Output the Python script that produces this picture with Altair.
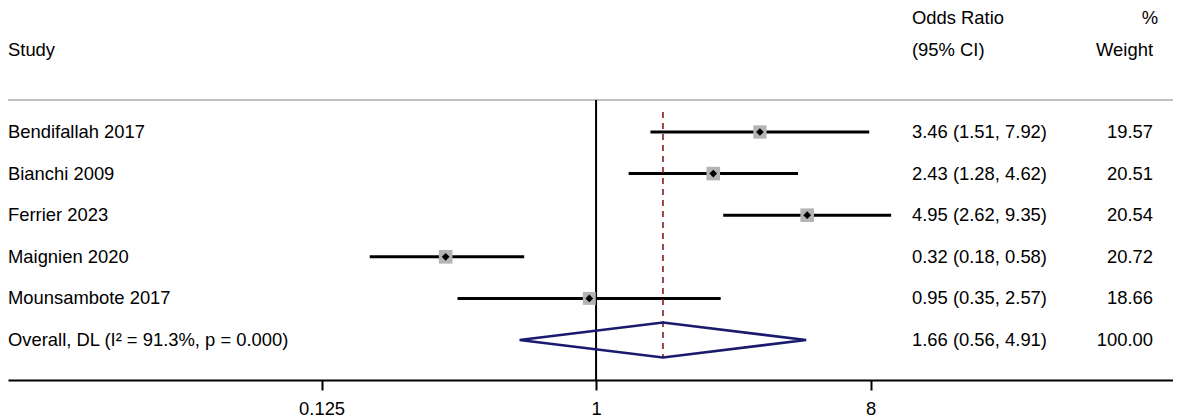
import altair as alt
import pandas as pd

# ---------------- data ----------------
studies = ["Bendifallah 2017", "Bianchi 2009", "Ferrier 2023", "Maignien 2020", "Mounsambote 2017"]
or_est = [3.46, 2.43, 4.95, 0.32, 0.95]
ci_lo = [1.51, 1.28, 2.62, 0.18, 0.35]
ci_hi = [7.92, 4.62, 9.35, 0.58, 2.57]
weights = [19.57, 20.51, 20.54, 20.72, 18.66]

overall_label = "Overall, DL (I\u00b2 = 91.3%, p = 0.000)"
overall_est = 1.66
overall_lo = 0.56
overall_hi = 4.91
overall_weight = 100.00

x_ticks = [0.125, 1, 8]

# ---------------- layout ----------------
W, H = 1165, 372
FONT = "Liberation Sans"
FS = 18.4
XMIN, XMAX = 0.01162, 79.1
YTOP, YBOT = -2.981, 5.962

X_SCALE = alt.Scale(type="log", base=2, domain=[XMIN, XMAX], nice=False)
Y_SCALE = alt.Scale(domain=[YTOP, YBOT], reverse=True, nice=False, zero=False)
X_AXIS = alt.Axis(values=x_ticks, format="~g", title=None, grid=False,
                  labelFlush=False, labelOverlap=False)

n = len(studies)
rows = list(range(n))
overall_row = n

study_df = pd.DataFrame({
    "study": studies, "est": or_est, "lo": ci_lo, "hi": ci_hi,
    "w": weights, "row": rows,
})

text_df = pd.DataFrame({
    "label": studies + [overall_label],
    "ci": [f"{e:.2f} ({l:.2f}, {h:.2f})" for e, l, h in
           zip(or_est + [overall_est], ci_lo + [overall_lo], ci_hi + [overall_hi])],
    "wt": [f"{w:.2f}" for w in weights + [overall_weight]],
    "row": rows + [overall_row],
})

DH = 0.42
diamond_df = pd.DataFrame({
    "x": [overall_lo, overall_est, overall_hi, overall_est, overall_lo],
    "row": [overall_row, overall_row - DH, overall_row, overall_row + DH, overall_row],
    "o": [0, 1, 2, 3, 4],
})

SEP = -0.769
sep_df = pd.DataFrame({"x": [XMIN], "x2": [XMAX], "row": [SEP]})
null_df = pd.DataFrame({"x": [1.0], "row": [SEP], "row2": [YBOT]})
dash_df = pd.DataFrame({"x": [overall_est], "row": [-0.48], "row2": [overall_row + DH]})


def X(field):
    return alt.X(field, type="quantitative", scale=X_SCALE, axis=X_AXIS)


def Y(field="row"):
    return alt.Y(field, type="quantitative", scale=Y_SCALE, axis=None)


whiskers = alt.Chart(study_df).mark_rule(
    color="black", strokeWidth=3
).encode(x=X("lo"), x2="hi", y=Y())

sep = alt.Chart(sep_df).mark_rule(color="#c0c0c0", strokeWidth=2).encode(
    x=X("x"), x2="x2", y=Y())

null_line = alt.Chart(null_df).mark_rule(color="black", strokeWidth=2).encode(
    x=X("x"), y=Y(), y2="row2")

dash_line = alt.Chart(dash_df).mark_rule(
    color="#8b1a1a", strokeWidth=1.6, strokeDash=[6, 5]
).encode(x=X("x"), y=Y(), y2="row2")

boxes = alt.Chart(study_df).mark_square(color="#b4b4b4", opacity=1).encode(
    x=X("est"), y=Y(),
    size=alt.Size("w", type="quantitative",
                  scale=alt.Scale(domain=[0, 20], range=[0, 180]), legend=None))

dots = alt.Chart(study_df).mark_point(
    shape="diamond", filled=True, color="black", size=60, opacity=1
).encode(x=X("est"), y=Y())

diamond = alt.Chart(diamond_df).mark_line(
    color="#1a1a6e", strokeWidth=2.6, strokeJoin="miter"
).encode(x=X("x"), y=Y(), order="o")


def text_layer(df, field, xpix, align):
    return alt.Chart(df).mark_text(
        align=align, baseline="middle", font=FONT, fontSize=FS, color="black"
    ).encode(x=alt.value(xpix), y=Y(), text=field)


labels = text_layer(text_df, "label", 0, "left")
cis = text_layer(text_df, "ci", 904, "left")
wts = text_layer(text_df, "wt", 1145, "right")

head_left = pd.DataFrame({"t": ["Study"], "row": [-1.97]})
head_ci = pd.DataFrame({"t": ["Odds Ratio", "(95% CI)"], "row": [-2.73, -1.97]})
head_w = pd.DataFrame({"t": ["Weight"], "row": [-1.97]})
head_pct = pd.DataFrame({"t": ["%"], "row": [-2.73]})

h1 = text_layer(head_left, "t", 0, "left")
h2 = text_layer(head_ci, "t", 904, "left")
h3 = text_layer(head_w, "t", 1145, "right")
h4 = text_layer(head_pct, "t", 1150, "right")

chart = alt.layer(
    whiskers, sep, null_line, dash_line, boxes, dots, diamond,
    labels, cis, wts, h1, h2, h3, h4
).properties(
    width=W, height=H,
    autosize=alt.AutoSizeParams(type="none"),
    padding={"left": 0, "top": 0, "right": 0, "bottom": 39},
).configure_view(stroke=None).configure_axis(
    domainColor="black", domainWidth=2, tickColor="black", tickWidth=2,
    tickSize=10, labelFont=FONT, labelFontSize=FS, labelColor="black",
    labelPadding=9,
)

chart.save("out.html", embed_options={"renderer": "svg", "actions": False})
